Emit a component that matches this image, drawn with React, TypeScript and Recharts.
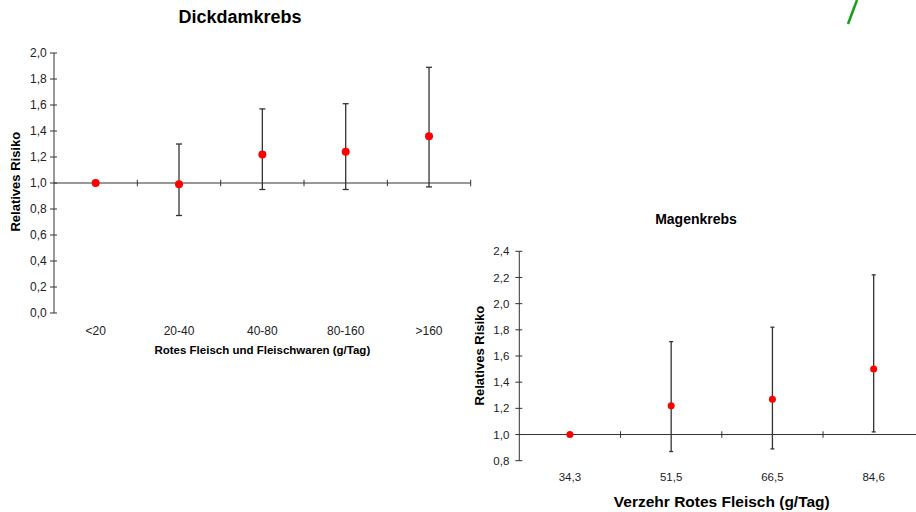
import React from "react";
import {
  ScatterChart,
  Scatter,
  XAxis,
  YAxis,
  ErrorBar,
  ReferenceLine,
} from "recharts";

// Dickdamkrebs (colon cancer)
const colonCats = ["<20", "20-40", "40-80", "80-160", ">160"];
const colonRR = [1.0, 0.99, 1.22, 1.24, 1.36];
const colonLow = [1.0, 0.75, 0.95, 0.95, 0.97];
const colonHigh = [1.0, 1.3, 1.57, 1.61, 1.89];
const colonTicks = [0, 0.2, 0.4, 0.6, 0.8, 1.0, 1.2, 1.4, 1.6, 1.8, 2.0];

// Magenkrebs (stomach cancer)
const stomachCats = ["34,3", "51,5", "66,5", "84,6"];
const stomachRR = [1.0, 1.22, 1.27, 1.5];
const stomachLow = [1.0, 0.87, 0.89, 1.02];
const stomachHigh = [1.0, 1.71, 1.82, 2.22];
const stomachTicks = [0.8, 1.0, 1.2, 1.4, 1.6, 1.8, 2.0, 2.2, 2.4];

const fmt = (v: number) => v.toFixed(1).replace(".", ",");

const buildRows = (rr: number[], lo: number[], hi: number[]) =>
  rr.map((v, i) => ({ idx: i, rr: v, err: [v - lo[i], hi[i] - v] }));

const colonRows = buildRows(colonRR, colonLow, colonHigh);
const stomachRows = buildRows(stomachRR, stomachLow, stomachHigh);

const AXIS = "#333";

function YTick(props: any) {
  const { x, y, payload, fs, tickLen, gap } = props;
  const axisX = x + tickLen + gap;
  return (
    <g>
      <line x1={axisX - 4} x2={axisX + 3} y1={y} y2={y} stroke={AXIS} />
      <text x={x} y={y} dy="0.355em" textAnchor="end" fontSize={fs} fill="#222">
        {fmt(payload.value)}
      </text>
    </g>
  );
}

function RiskChart(props: {
  rows: { idx: number; rr: number; err: number[] }[];
  cats: string[];
  yTicks: number[];
  width: number;
  height: number;
  margin: { top: number; right: number; bottom: number; left: number };
  yWidth: number;
  fs: number;
  yGap: number;
  xGap: number;
  dotR: number;
  cap: number;
  xTitle: string;
  xTitleSize: number;
  xTitleDy: number;
  yTitleSize: number;
  yTitleDx: number;
  yTitleDy: number;
  tickHalf: number;
}) {
  const n = props.cats.length;
  const bounds = props.cats.map((_, i) => i + 0.5);
  return (
    <ScatterChart width={props.width} height={props.height} margin={props.margin}>
      <XAxis
        type="number"
        dataKey="idx"
        domain={[-0.5, n - 0.5]}
        ticks={props.cats.map((_, i) => i)}
        tickFormatter={(i: number) => props.cats[i] ?? ""}
        axisLine={false}
        tickLine={false}
        tickSize={6}
        tickMargin={props.xGap}
        height={30}
        tick={{ fontSize: props.fs, fill: "#222" }}
        label={{
          value: props.xTitle,
          position: "center",
          dy: props.xTitleDy,
          fontSize: props.xTitleSize,
          fontWeight: "bold",
          fill: "#000",
        }}
      />
      <YAxis
        type="number"
        dataKey="rr"
        domain={[props.yTicks[0], props.yTicks[props.yTicks.length - 1]]}
        ticks={props.yTicks}
        width={props.yWidth}
        axisLine={{ stroke: AXIS }}
        tickLine={false}
        tickSize={4}
        tickMargin={props.yGap}
        tick={<YTick fs={props.fs} tickLen={4} gap={props.yGap} />}
        label={{
          value: "Relatives Risiko",
          angle: -90,
          position: "center",
          dx: props.yTitleDx,
          dy: props.yTitleDy,
          fontSize: props.yTitleSize,
          fontWeight: "bold",
          fill: "#000",
        }}
      />
      <ReferenceLine y={1} stroke={AXIS} strokeWidth={1} />
      {bounds.map((b) => (
        <ReferenceLine
          key={b}
          segment={[
            { x: b, y: 1 - props.tickHalf },
            { x: b, y: 1 + props.tickHalf },
          ]}
          stroke={AXIS}
          ifOverflow="visible"
        />
      ))}
      <Scatter
        data={props.rows}
        isAnimationActive={false}
        shape={(p: any) => <circle cx={p.cx} cy={p.cy} r={props.dotR} fill="#ff0000" />}
      >
        <ErrorBar
          dataKey="err"
          direction="y"
          width={props.cap}
          stroke="#333"
          strokeWidth={1.3}
          isAnimationActive={false}
        />
      </Scatter>
    </ScatterChart>
  );
}

export default function App() {
  return (
    <div
      style={{
        position: "fixed",
        left: 0,
        top: 0,
        width: 916,
        height: 512,
        overflow: "hidden",
        background: "#fff",
        fontFamily: '"Liberation Sans", Arial, sans-serif',
      }}
    >
      <div
        style={{
          position: "absolute",
          left: 140,
          width: 200,
          top: 7.7,
          textAlign: "center",
          fontSize: 18,
          lineHeight: "18px",
          fontWeight: "bold",
        }}
      >
        Dickdamkrebs
      </div>
      <div style={{ position: "absolute", left: 0, top: 0 }}>
        <RiskChart
          rows={colonRows}
          cats={colonCats}
          yTicks={colonTicks}
          width={480}
          height={360}
          margin={{ top: 53, right: 9.3, bottom: 17, left: 0 }}
          yWidth={54}
          fs={12}
          yGap={3.3}
          xGap={7.5}
          dotR={4}
          cap={3}
          xTitle="Rotes Fleisch und Fleischwaren (g/Tag)"
          xTitleSize={11.5}
          xTitleDy={22}
          yTitleSize={13}
          yTitleDx={-12}
          yTitleDy={-1.3}
          tickHalf={0.025}
        />
      </div>
      <div
        style={{
          position: "absolute",
          left: 596,
          width: 200,
          top: 212,
          textAlign: "center",
          fontSize: 14,
          lineHeight: "14px",
          fontWeight: "bold",
        }}
      >
        Magenkrebs
      </div>
      <div style={{ position: "absolute", left: 470, top: 200 }}>
        <RiskChart
          rows={stomachRows}
          cats={stomachCats}
          yTicks={stomachTicks}
          width={470}
          height={312}
          margin={{ top: 51.3, right: 15.7, bottom: 21.3, left: 0 }}
          yWidth={49.3}
          fs={11.5}
          yGap={6}
          xGap={6.5}
          dotR={3.5}
          cap={2}
          xTitle="Verzehr Rotes Fleisch (g/Tag)"
          xTitleSize={15.5}
          xTitleDy={26}
          yTitleSize={13}
          yTitleDx={-15.6}
          yTitleDy={-0.4}
          tickHalf={0.025}
        />
      </div>
      <svg
        width={20}
        height={30}
        style={{ position: "absolute", left: 840, top: 0 }}
      >
        <line x1={8} y1={24} x2={17} y2={0} stroke="#1a9e1a" strokeWidth={2.5} />
      </svg>
    </div>
  );
}
